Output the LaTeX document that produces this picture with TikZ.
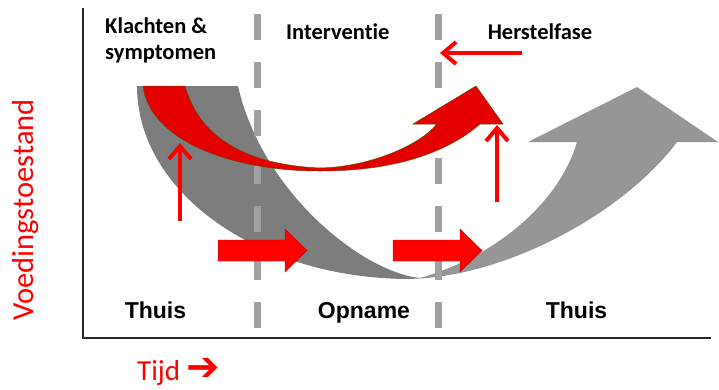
\documentclass[tikz,border=0pt]{standalone}
\usepackage{fontspec}
\setmainfont{Carlito}[Ligatures=NoCommon]
\newfontfamily\placefont{Liberation Sans}
\newfontfamily\symbolfont{DejaVu Sans}
\usetikzlibrary{arrows.meta}
\definecolor{bandgray}{RGB}{125,125,125}
\definecolor{risegray}{RGB}{150,150,150}
\definecolor{phasegray}{RGB}{160,160,160}
\definecolor{alarmred}{RGB}{255,0,0}
\definecolor{bandred}{RGB}{228,0,0}
\definecolor{rimgreen}{RGB}{110,70,0}
\tikzset{
  phase/.style={font=\bfseries\fontsize{22.5}{26}\selectfont, inner sep=0pt},
  place/.style={font=\placefont\bfseries\fontsize{23}{27}\selectfont, anchor=base, inner sep=0pt},
  divider/.style={phasegray, line width=7pt, dash pattern=on 26pt off 22pt},
  push/.style={fill=alarmred, draw=red!70!black, line width=0.4pt},
  lift/.style={alarmred, line width=4pt, -{Straight Barb[length=13pt,width=22pt]}},
}
\begin{document}
\begin{tikzpicture}[x=1pt,y=-1pt]
  \useasboundingbox (0,0) rectangle (719,389);
  \draw[line width=1.5pt, black!85] (83,8) -- (83,338) -- (711,338);
  \fill[risegray] (405,279) .. controls (505,279) and (625,212) .. (677,142) -- (718,142)
    -- (637,87) -- (528,142) -- (577,142) .. controls (560,200) and (500,255) .. (420,278) -- cycle;
  \fill[bandgray] (137,86) .. controls (137,193) and (259,279) .. (410,279) -- (420,278)
    .. controls (362,272) and (262,192) .. (238,86) -- cycle;
  \draw[divider] (257,14) -- (257,330);
  \draw[divider] (438,14) -- (438,330);
  \filldraw[fill=bandred, draw=rimgreen, line width=0.5pt] (143,86)
    .. controls (150,140) and (230,171) .. (320,171)
    .. controls (400,171) and (450,150) .. (480,124) -- (503,124) -- (476,86) -- (413,124) -- (437,124)
    .. controls (420,145) and (370,167) .. (320,168)
    .. controls (250,165) and (200,140) .. (185,86) -- cycle;
  \foreach \x in {218,393}
    \filldraw[push] (\x,240) -- ++(67,0) -- ++(0,-11) -- ++(22,21.5) -- ++(-22,21.5) -- ++(0,-11) -- ++(-67,0) -- cycle;
  \coordinate (lowfoot) at (180,221);
  \coordinate (lowtip) at (180,143);
  \coordinate (highfoot) at (497,202);
  \coordinate (hightip) at (497,125);
  \coordinate (backfoot) at (522,53);
  \coordinate (backtip) at (440,53);
  \draw[lift] (lowfoot) -- (lowtip);
  \draw[lift] (highfoot) -- (hightip);
  \draw[lift] (backfoot) -- (backtip);
  \node[phase, anchor=base west] (complaints) at (105,33) {Klachten \&};
  \node[phase, anchor=base west] (symptoms) at (105,59) {symptomen};
  \node[phase, anchor=base west] (intervention) at (286,39) {Interventie};
  \node[phase, anchor=base] (recovery) at (540,39) {Herstelfase};
  \node[place] (homebefore) at (155.5,318) {Thuis};
  \node[place] (admission) at (364,318) {Opname};
  \node[place] (homeafter) at (576.5,318) {Thuis};
  \node[font=\fontsize{30.5}{34}\selectfont, text=alarmred, rotate=90, anchor=base, inner sep=0pt] (nutrition) at (33,210) {Voedingstoestand};
  \node[font=\fontsize{29}{32}\selectfont, text=alarmred, anchor=base west, inner sep=0pt] (time) at (137,380) {Tijd {\symbolfont\bfseries\fontsize{40}{40}\selectfont ➔}};
\end{tikzpicture}
\end{document}
